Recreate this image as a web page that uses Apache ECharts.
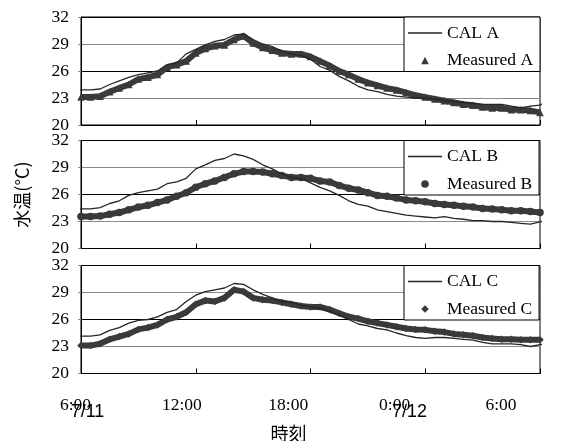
<!DOCTYPE html>
<html><head><meta charset="utf-8">
<script src="https://cdn.jsdelivr.net/npm/echarts@6/dist/echarts.min.js"></script>
<style>html,body{margin:0;padding:0;background:#fff}#c{width:564px;height:441px}</style>
</head><body><div id="c"></div>
<script>
// hours after 7/11 6:00
const hours = [0,0.5,1,1.5,2,2.5,3,3.5,4,4.5,5,5.5,6,6.5,7,7.5,8,8.5,9,9.5,10,10.5,11,11.5,12,12.5,13,13.5,14,14.5,15,15.5,16,16.5,17,17.5,18,18.5,19,19.5,20,20.5,21,21.5,22,22.5,23,23.5,24];
const calA  = [23.9,23.9,24.0,24.5,24.9,25.3,25.6,25.8,26.0,26.7,26.9,27.9,28.4,28.9,29.3,29.5,30.0,30.1,29.5,29.0,28.7,28.2,27.9,27.7,27.3,26.5,26.1,25.4,24.9,24.3,23.9,23.7,23.4,23.2,23.1,23.0,23.0,22.9,22.7,22.6,22.5,22.4,22.3,22.3,22.3,22.1,21.9,22.1,22.2];
const measA = [23.1,23.1,23.2,23.7,24.1,24.5,25.1,25.3,25.6,26.4,26.7,27.1,28.0,28.5,28.8,28.9,29.5,29.9,29.1,28.6,28.3,28.0,27.9,27.9,27.6,27.1,26.6,26.0,25.6,25.1,24.7,24.4,24.1,23.9,23.6,23.3,23.1,22.9,22.7,22.5,22.3,22.2,22.0,21.9,21.9,21.7,21.7,21.6,21.4];
const calB  = [24.4,24.4,24.55,25.0,25.3,25.9,26.2,26.4,26.6,27.2,27.4,27.8,28.85,29.3,29.8,30.0,30.5,30.3,29.9,29.3,28.85,28.3,27.9,27.8,27.3,26.8,26.4,25.9,25.3,24.9,24.7,24.3,24.1,23.9,23.7,23.6,23.5,23.4,23.55,23.35,23.25,23.1,23.1,23.0,23.0,22.9,22.8,22.7,22.95];
const measB = [23.55,23.55,23.6,23.8,24.0,24.3,24.6,24.8,25.1,25.4,25.8,26.2,26.8,27.2,27.5,27.9,28.3,28.55,28.55,28.5,28.3,28.1,27.9,27.9,27.8,27.5,27.4,27.0,26.7,26.5,26.2,25.9,25.8,25.6,25.4,25.3,25.2,25.0,24.9,24.8,24.7,24.6,24.45,24.4,24.3,24.2,24.2,24.1,24.0];
const calC  = [24.15,24.15,24.3,24.8,25.1,25.6,25.9,26.0,26.3,26.8,27.1,28.0,28.7,29.1,29.3,29.5,30.0,29.9,29.3,28.8,28.4,28.0,27.9,27.6,27.4,27.3,26.9,26.5,26.0,25.5,25.3,25.0,24.85,24.5,24.2,24.0,23.9,24.0,24.0,23.9,23.8,23.7,23.45,23.3,23.3,23.3,23.2,23.0,23.2];
const measC = [23.1,23.1,23.3,23.8,24.1,24.4,24.9,25.1,25.4,26.0,26.3,26.8,27.7,28.1,28.0,28.4,29.3,29.1,28.4,28.2,28.1,27.9,27.7,27.5,27.4,27.4,27.1,26.7,26.3,26.1,25.8,25.6,25.4,25.2,25.0,24.9,24.85,24.7,24.6,24.4,24.3,24.2,24.0,23.9,23.8,23.8,23.75,23.75,23.75];
// CAL lines run slightly past the axis ends
const calEdgeTimes = [-0.15, 24.3];
const calAEdge = [23.9, 22.6];
const calBEdge = [24.4, 23.1];
const calCEdge = [24.15, 23.3];

const yTicks = [20, 23, 26, 29, 32];
const timeLabels = ['6:00', '12:00', '18:00', '0:00', '6:00'];
const dateLabels = ['7/11', '7/12'];
const yTitle = '水温(°C)';
const xTitle = '時刻';
const calNames = ['CAL A', 'CAL B', 'CAL C'];
const measNames = ['Measured A', 'Measured B', 'Measured C'];
const measSymbols = ['triangle', 'circle', 'diamond'];

const cals = [calA, calB, calC];
const meass = [measA, measB, measC];
const calEdges = [calAEdge, calBEdge, calCEdge];

const gridTops = [17, 140.5, 265.5];
const GL = 81, GW = 459, GH = 108;
const serif = 'Liberation Serif';

const grids = [], xAxes = [], yAxes = [], series = [], legends = [];
for (let p = 0; p < 3; p++) {
  grids.push({left: GL, top: gridTops[p], width: GW, height: GH, show: true, borderColor: '#000', borderWidth: 1, backgroundColor: 'transparent'});
  xAxes.push({type: 'value', gridIndex: p, min: 0, max: 24, interval: 6,
    axisLine: {lineStyle: {color: '#000', width: 1}},
    axisTick: {inside: true, length: 5, lineStyle: {color: '#000'}},
    axisLabel: {show: false}, splitLine: {show: false}});
  yAxes.push({type: 'value', gridIndex: p, min: yTicks[0], max: yTicks[yTicks.length-1], interval: yTicks[1]-yTicks[0],
    axisLine: {show: true, lineStyle: {color: '#000', width: 1}},
    axisTick: {show: true, length: 3, lineStyle: {color: '#888'}},
    axisLabel: {fontFamily: serif, fontSize: 17.5, color: '#000', margin: 12},
    splitLine: {show: true, lineStyle: {color: ['#000', '#8a8a8a', '#000', '#8a8a8a', '#000'], width: 1}},
    name: p === 1 ? yTitle : '', nameLocation: 'middle', nameRotate: 90, nameGap: 50,
    nameTextStyle: {fontFamily: 'Noto Sans CJK JP', fontSize: 18, color: '#000'}});
  const calData = [[calEdgeTimes[0], calEdges[p][0]]].concat(hours.map((h, i) => [h, cals[p][i]])).concat([[calEdgeTimes[1], calEdges[p][1]]]);
  series.push({name: measNames[p], type: 'line', xAxisIndex: p, yAxisIndex: p,
    data: hours.map((h, i) => [h, meass[p][i]]),
    symbol: measSymbols[p], symbolSize: 7.5, showSymbol: true, showAllSymbol: true,
    lineStyle: {color: '#3a3a3a', width: 6}, itemStyle: {color: '#3a3a3a'}, z: 2, animation: false});
  series.push({name: calNames[p], type: 'line', xAxisIndex: p, yAxisIndex: p,
    data: calData, symbol: 'none', clip: false,
    lineStyle: {color: '#262626', width: 1.3}, itemStyle: {color: '#262626'}, z: 3, animation: false});
  legends.push({left: 404, top: gridTops[p], orient: 'vertical', selectedMode: false,
    data: [{name: calNames[p], icon: 'path://M0,0H34V1.5H0Z'},
           {name: measNames[p], lineStyle: {opacity: 0, width: 0.01}}],
    itemWidth: 34, itemHeight: 9.5, itemGap: 9.5, padding: [7, 7, 2, 4],
    backgroundColor: '#fff', borderColor: '#000', borderWidth: 1,
    textStyle: {fontFamily: serif, fontSize: 17.5, color: '#000'}});
}
// label-only axis for the time ticks
grids.push({left: 75.5, top: 387, width: 425.5, height: 1, show: false});
xAxes.push({type: 'value', gridIndex: 3, min: 0, max: 24, interval: 6,
  axisLine: {show: false}, axisTick: {show: false}, splitLine: {show: false},
  axisLabel: {fontFamily: serif, fontSize: 17.5, color: '#000', margin: 8,
    formatter: v => timeLabels[Math.round(v / 6)]}});
yAxes.push({type: 'value', gridIndex: 3, show: false});

const chart = echarts.init(document.getElementById('c'), null, {renderer: 'canvas'});
chart.setOption({
  backgroundColor: '#fff', animation: false,
  grid: grids, xAxis: xAxes, yAxis: yAxes, series: series, legend: legends,
  graphic: [
    {type: 'text', x: 87.5, y: 412, style: {text: dateLabels[0], fontFamily: 'Liberation Sans', fontSize: 18, fill: '#000', textAlign: 'center', textVerticalAlign: 'middle'}},
    {type: 'text', x: 409.5, y: 412, style: {text: dateLabels[1], fontFamily: 'Liberation Sans', fontSize: 18, fill: '#000', textAlign: 'center', textVerticalAlign: 'middle'}},
    {type: 'text', x: 288.5, y: 433, style: {text: xTitle, fontFamily: 'Noto Sans CJK JP', fontSize: 18, fill: '#000', textAlign: 'center', textVerticalAlign: 'middle'}}
  ]
});
</script></body></html>
